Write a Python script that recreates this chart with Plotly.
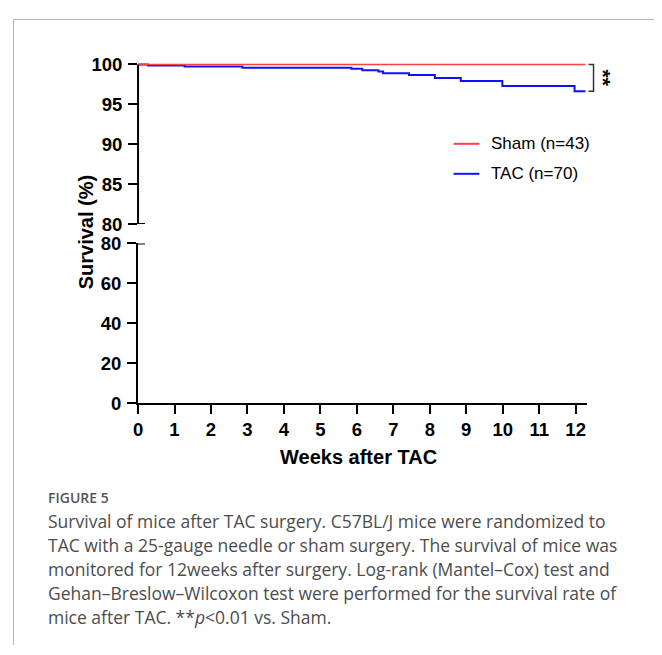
import plotly.graph_objects as go

# ---- data ----
weeks_ticks = list(range(0, 13))
y_top_ticks = [80, 85, 90, 95, 100]
y_bottom_ticks = [0, 20, 40, 60, 80]

sham_weeks = [0, 12.27]
sham_survival = [100, 100]

tac_weeks = [0, 0.27, 1.28, 2.86, 5.85, 6.15, 6.59, 6.72, 7.43, 8.14, 8.85, 9.99, 11.97, 12.27]
tac_survival = [100, 99.88, 99.76, 99.6, 99.45, 99.27, 99.12, 98.9, 98.67, 98.3, 97.94, 97.3, 96.65, 96.65]

series_names = ["Sham (n=43)", "TAC (n=70)"]
sham_color = "#ff4040"
tac_color = "#1010ff"

caption_title = "FIGURE 5"
caption_lines = [
    "Survival of mice after TAC surgery. C57BL/J mice were randomized to",
    "TAC with a 25-gauge needle or sham surgery. The survival of mice was",
    "monitored for 12weeks after surgery. Log-rank (Mantel\u2013Cox) test and",
    "Gehan\u2013Breslow\u2013Wilcoxon test were performed for the survival rate of",
    "mice after TAC. **<i>p</i><0.01 vs. Sham.",
]

# page body has an 8px margin; the figure fills the rest of the 662x655 window
OFF = 8
W, H = 662 - OFF, 655 - OFF
def px(x):
    return (x - OFF) / W
def py(y):
    return 1 - (y - OFF) / H

FONT = "Liberation Sans"
bold = dict(family=FONT, size=18.5, color="black", weight="bold")

fig = go.Figure()
fig.add_trace(go.Scatter(x=tac_weeks, y=tac_survival, mode="lines", line_shape="hv",
                         line=dict(color=tac_color, width=2), name=series_names[1],
                         xaxis="x", yaxis="y2", showlegend=False))
fig.add_trace(go.Scatter(x=sham_weeks, y=sham_survival, mode="lines", line_shape="hv",
                         line=dict(color=sham_color, width=1.5), name=series_names[0],
                         xaxis="x", yaxis="y2", showlegend=False))

x0p = px(134)
fig.update_layout(
    width=W, height=H,
    margin=dict(l=0, r=0, t=0, b=0),
    paper_bgcolor="white", plot_bgcolor="white",
    xaxis=dict(domain=[px(134), px(586)], range=[0, 12.3], tickvals=weeks_ticks,
               ticks="outside", ticklen=9, tickwidth=2, tickcolor="black",
               showline=True, linewidth=2, linecolor="black", showgrid=False,
               zeroline=False, tickfont=bold, anchor="y"),
    yaxis=dict(domain=[py(405), py(240)], range=[0, 80], tickvals=y_bottom_ticks,
               ticks="outside", ticklen=9, tickwidth=2, tickcolor="black",
               showline=True, linewidth=2, linecolor="black", showgrid=False,
               zeroline=False, tickfont=bold, anchor="x", ticklabelstandoff=2),
    yaxis2=dict(domain=[py(220), py(51.7)], range=[80, 100.4], tickvals=y_top_ticks,
                ticks="outside", ticklen=9, tickwidth=2, tickcolor="black",
                showline=False, showgrid=False, zeroline=False, tickfont=bold,
                anchor="x", ticklabelstandoff=2),
)

shapes = []
# top axis line
shapes.append(dict(type="line", xref="paper", yref="y2", x0=x0p, x1=x0p, y0=80, y1=100,
                   line=dict(color="black", width=2)))
# break ticks extending right
for yr in ["y", "y2"]:
    shapes.append(dict(type="line", xref="paper", yref=yr, x0=px(133), x1=px(141), y0=80, y1=80,
                       line=dict(color="black", width=2)))
# significance bracket
bx0, bx1 = px(588), px(593)
shapes.append(dict(type="path", xref="paper", yref="y2",
                   path=f"M {bx0} 100 L {bx1} 100 L {bx1} {tac_survival[-1]} L {bx0} {tac_survival[-1]}",
                   line=dict(color="#333333", width=1.5)))
# legend lines
shapes.append(dict(type="line", xref="paper", yref="paper", x0=px(452), x1=px(478), y0=py(137), y1=py(137),
                   line=dict(color=sham_color, width=2)))
shapes.append(dict(type="line", xref="paper", yref="paper", x0=px(452), x1=px(478), y0=py(168), y1=py(168),
                   line=dict(color=tac_color, width=2)))
# figure frame
shapes.append(dict(type="line", xref="paper", yref="paper", x0=px(8.5), x1=1, y0=py(8.5), y1=py(8.5),
                   line=dict(color="#b5b5b5", width=1)))
shapes.append(dict(type="line", xref="paper", yref="paper", x0=px(8.5), x1=px(8.5), y0=py(8.5), y1=0,
                   line=dict(color="#b5b5b5", width=1)))
fig.update_layout(shapes=shapes)

ann = []
ann.append(dict(text="Survival (%)", x=px(81), y=py(228), xref="paper", yref="paper",
                textangle=-90, showarrow=False, xanchor="center", yanchor="middle",
                font=dict(family=FONT, size=20, color="black", weight="bold")))
ann.append(dict(text="Weeks after TAC", x=px(356), y=py(461), xref="paper", yref="paper",
                showarrow=False, xanchor="center", yanchor="middle",
                font=dict(family=FONT, size=20, color="black", weight="bold")))
ann.append(dict(text=series_names[0], x=px(488), y=py(137), xref="paper", yref="paper",
                showarrow=False, xanchor="left", yanchor="middle",
                font=dict(family=FONT, size=17, color="black")))
ann.append(dict(text=series_names[1], x=px(488), y=py(168), xref="paper", yref="paper",
                showarrow=False, xanchor="left", yanchor="middle",
                font=dict(family=FONT, size=17, color="black")))
ann.append(dict(text="**", x=px(604), y=98.3, xref="paper", yref="y2", textangle=90,
                showarrow=False, xanchor="center", yanchor="middle",
                font=dict(family=FONT, size=21, color="black", weight="bold")))
ann.append(dict(text=caption_title, x=px(41), y=py(503), xref="paper", yref="paper",
                showarrow=False, xanchor="left", yanchor="middle",
                font=dict(family="Open Sans", size=14, color="#555555", weight=600)))
for i, line in enumerate(caption_lines):
    ann.append(dict(text=line, x=px(41), y=py(527 + 24.7 * i), xref="paper", yref="paper",
                    showarrow=False, xanchor="left", yanchor="middle",
                    font=dict(family="Open Sans", size=17.5, color="#4d4d4d")))
fig.update_layout(annotations=ann)

fig.write_html("out.html")
